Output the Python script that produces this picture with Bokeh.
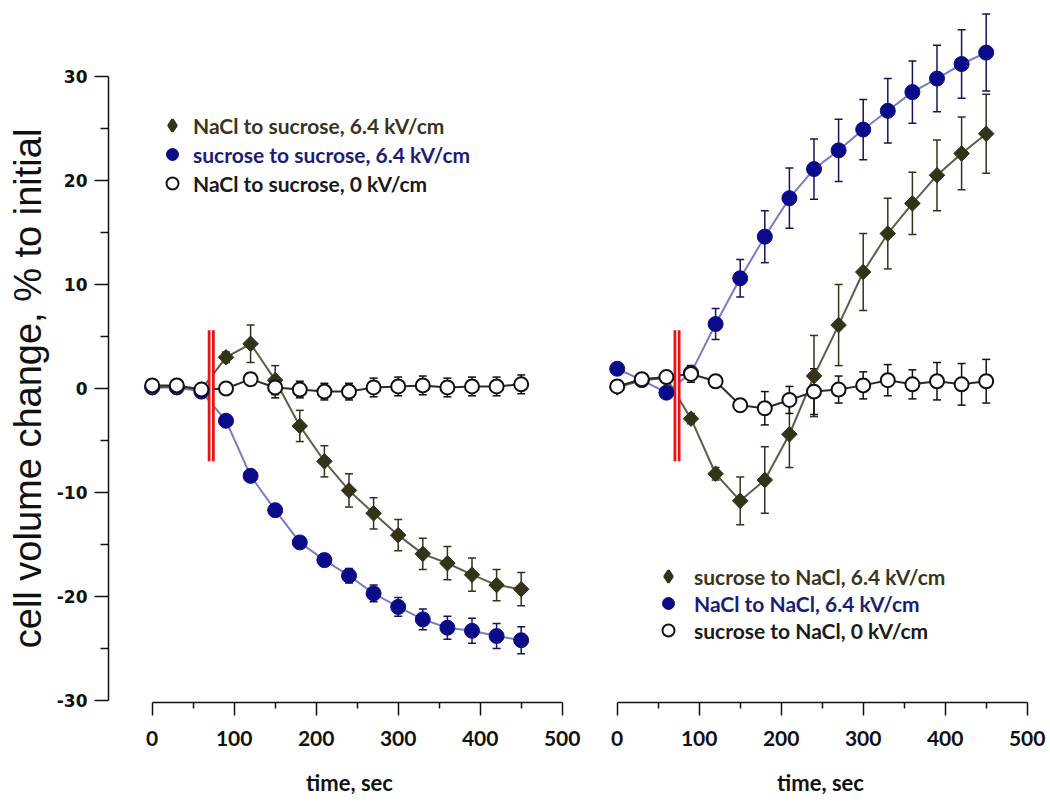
import numpy as np
from bokeh.plotting import figure
from bokeh.models import (ColumnDataSource, Whisker, TeeHead, Range1d, FixedTicker,
                          Legend, LegendItem)
from bokeh.layouts import row
from bokeh.embed import file_html
from bokeh.resources import INLINE

# ---------------- data ----------------
time_s = [0, 30, 60, 90, 120, 150, 180, 210, 240, 270, 300, 330, 360, 390, 420, 450]

# left panel (transfer into sucrose)
nacl_to_suc_64 = [0.1, 0.2, -0.1, 3.0, 4.3, 0.8, -3.6, -7.0, -9.8, -12.0, -14.1, -15.9, -16.8, -17.9, -18.9, -19.3]
nacl_to_suc_64_err = [0.3, 0.3, 0.3, 0.5, 1.8, 1.4, 1.5, 1.5, 1.6, 1.5, 1.5, 1.5, 1.6, 1.6, 1.5, 1.6]
suc_to_suc_64 = [0.1, 0.1, -0.3, -3.1, -8.4, -11.7, -14.8, -16.5, -18.0, -19.7, -21.0, -22.2, -23.0, -23.3, -23.8, -24.2]
suc_to_suc_64_err = [0.3, 0.3, 0.3, 0.4, 0.4, 0.5, 0.5, 0.6, 0.7, 0.8, 0.9, 1.0, 1.1, 1.2, 1.2, 1.3]
nacl_to_suc_0 = [0.3, 0.3, -0.1, 0.0, 0.9, 0.1, -0.1, -0.3, -0.3, 0.1, 0.2, 0.3, 0.1, 0.2, 0.2, 0.4]
nacl_to_suc_0_err = [0.5, 0.5, 0.5, 0.5, 0.6, 1.0, 0.8, 0.8, 0.8, 0.9, 0.9, 0.9, 0.9, 0.9, 0.9, 0.9]

# right panel (transfer into NaCl)
suc_to_nacl_64 = [0.1, 0.8, 1.0, -2.9, -8.2, -10.8, -8.8, -4.4, 1.2, 6.1, 11.2, 14.9, 17.8, 20.5, 22.6, 24.5]
suc_to_nacl_64_err = [0.3, 0.3, 0.3, 0.5, 0.6, 2.3, 3.2, 3.2, 3.9, 3.9, 3.7, 3.4, 3.0, 3.4, 3.5, 3.8]
nacl_to_nacl_64 = [1.9, 0.8, -0.4, 1.5, 6.2, 10.6, 14.6, 18.3, 21.1, 22.9, 24.9, 26.7, 28.5, 29.8, 31.2, 32.3]
nacl_to_nacl_64_err = [0.4, 0.4, 0.4, 0.6, 1.5, 1.8, 2.5, 2.9, 2.9, 3.0, 2.9, 3.1, 3.0, 3.2, 3.3, 3.7]
suc_to_nacl_0 = [0.2, 0.9, 1.1, 1.4, 0.7, -1.6, -1.9, -1.1, -0.3, -0.1, 0.3, 0.8, 0.4, 0.7, 0.4, 0.7]
suc_to_nacl_0_err = [0.3, 0.3, 0.4, 0.8, 0.4, 0.6, 1.6, 1.3, 2.2, 1.3, 1.3, 1.5, 1.4, 1.8, 2.0, 2.1]

labels_left = ["NaCl to sucrose, 6.4 kV/cm", "sucrose to sucrose, 6.4 kV/cm", "NaCl to sucrose, 0 kV/cm"]
labels_right = ["sucrose to NaCl, 6.4 kV/cm", "NaCl to NaCl, 6.4 kV/cm", "sucrose to NaCl, 0 kV/cm"]

pulse_time = [72, 73]          # electric pulse marker (left, right)
pulse_span = [-7.0, 5.6]       # vertical extent of the pulse marker

x_ticks = [0, 100, 200, 300, 400, 500]
x_minor = [50, 150, 250, 350, 450]
y_ticks = [-30, -20, -10, 0, 10, 20, 30]
y_minor = [-25, -15, -5, 5, 15, 25]

x_title = "time, sec"
y_title = "cell volume change, % to initial"

# ---------------- styles / layout ----------------
OLIVE = "#33331a"
OLIVE_LINE = "#5e5e48"
NAVY = "#0b0b8a"
NAVY_LINE = "#7b7bc6"
BLACK = "#111111"
LEG_COLORS = ["#3a3520", "#1c1c7a", "#1a1a1a"]

PX_T = 0.82     # px per second
PX_V = 10.4     # px per % unit
ZERO_Y = 388    # page y of value 0
FRAME_TOP, FRAME_BOTTOM = 0, 702
Y_START = (ZERO_Y - FRAME_BOTTOM) / PX_V
Y_END = (ZERO_Y - FRAME_TOP) / PX_V
H = 800
# non-breaking spaces appended so the rotated title is centred on the value axis
TITLE_PAD = "\u00a0" * 7


def style_axes(p, with_y):
    ax = p.xaxis[0]
    ax.bounds = (0, 500)
    ax.ticker = FixedTicker(ticks=x_ticks, minor_ticks=x_minor)
    ax.axis_line_color = BLACK
    ax.axis_line_width = 1.5
    ax.major_tick_line_color = BLACK
    ax.major_tick_line_width = 1.5
    ax.minor_tick_line_color = BLACK
    ax.minor_tick_line_width = 1.5
    ax.major_tick_in = 0
    ax.major_tick_out = 13
    ax.minor_tick_in = 0
    ax.minor_tick_out = 6
    ax.major_label_text_font = "Lato"
    ax.major_label_text_font_style = "bold"
    ax.major_label_text_font_size = "21px"
    ax.major_label_text_color = BLACK
    ax.major_label_standoff = 15
    ax.axis_label = x_title
    ax.axis_label_text_font = "Lato"
    ax.axis_label_text_font_style = "bold"
    ax.axis_label_text_font_size = "22px"
    ax.axis_label_text_color = BLACK
    ax.axis_label_standoff = 20
    if with_y:
        ay = p.yaxis[0]
        ay.bounds = (-30, 30)
        ay.ticker = FixedTicker(ticks=y_ticks, minor_ticks=y_minor)
        ay.major_label_overrides = {t: str(t) for t in y_ticks}
        ay.axis_line_color = BLACK
        ay.axis_line_width = 1.5
        ay.major_tick_line_color = BLACK
        ay.major_tick_line_width = 1.5
        ay.minor_tick_line_color = BLACK
        ay.minor_tick_line_width = 1.5
        ay.major_tick_in = 0
        ay.major_tick_out = 14
        ay.minor_tick_in = 0
        ay.minor_tick_out = 8
        ay.major_label_text_font = "DejaVu Sans"
        ay.major_label_text_font_style = "bold"
        ay.major_label_text_font_size = "17px"
        ay.major_label_text_color = BLACK
        ay.major_label_standoff = 7
        ay.axis_label = y_title + TITLE_PAD
        ay.axis_label_text_font = "Liberation Sans"
        ay.axis_label_text_font_style = "normal"
        ay.axis_label_text_font_size = "38px"
        ay.axis_label_text_color = BLACK
        ay.axis_label_standoff = 5


def add_errs(p, src, ycol, ecol, color):
    d = src.data
    d[ycol + "_up"] = [a + b for a, b in zip(d[ycol], d[ecol])]
    d[ycol + "_lo"] = [a - b for a, b in zip(d[ycol], d[ecol])]
    w = Whisker(source=src, base="t", upper=ycol + "_up", lower=ycol + "_lo",
                line_color=color, line_width=1.5,
                upper_head=TeeHead(size=8, line_color=color, line_width=1.5),
                lower_head=TeeHead(size=8, line_color=color, line_width=1.5),
                level="underlay")
    p.add_layout(w)


def make_panel(page_left, page_right, t0_px, with_y, series, pulse_t, labels, leg_x, leg_rows, standoff):
    x_start = (page_left - t0_px) / PX_T
    x_end = (page_right - t0_px) / PX_T
    border_left = page_left if with_y else 0
    width = page_right - page_left + border_left
    p = figure(width=width, height=H,
               x_range=Range1d(x_start, x_end), y_range=Range1d(Y_START, Y_END),
               output_backend="svg", toolbar_location=None,
               min_border_left=border_left, min_border_right=0,
               min_border_top=0, min_border_bottom=H - (FRAME_BOTTOM - FRAME_TOP),
               y_axis_location="left" if with_y else None)
    p.grid.visible = False
    p.outline_line_color = None
    p.background_fill_color = "white"
    p.border_fill_color = "white"
    style_axes(p, with_y)

    (dia, dia_e), (blu, blu_e), (opn, opn_e) = series
    src = ColumnDataSource(dict(t=time_s, dia=dia, dia_e=dia_e, blu=blu, blu_e=blu_e,
                                opn=opn, opn_e=opn_e))
    add_errs(p, src, "blu", "blu_e", "#14145a")
    add_errs(p, src, "dia", "dia_e", OLIVE)
    add_errs(p, src, "opn", "opn_e", BLACK)

    p.line("t", "blu", source=src, line_color=NAVY_LINE, line_width=2)
    p.line("t", "dia", source=src, line_color=OLIVE_LINE, line_width=2)
    p.line("t", "opn", source=src, line_color="#2a2a2a", line_width=2)

    # pulse marker: red double line
    p.segment(x0=[pulse_t], y0=[pulse_span[0]], x1=[pulse_t], y1=[pulse_span[1]],
              line_color="#ee1111", line_width=7)
    p.segment(x0=[pulse_t], y0=[pulse_span[0]], x1=[pulse_t], y1=[pulse_span[1]],
              line_color="white", line_width=1.5)

    r_blu = p.scatter("t", "blu", source=src, marker="circle", size=15,
                      fill_color=NAVY, line_color=NAVY, line_width=1)
    # upright diamond used for the legend; fully covered by the rotated squares below
    r_dia_leg = p.scatter("t", "dia", source=src, marker="diamond", size=12,
                          fill_color=OLIVE, line_color=OLIVE, line_width=2.5)
    p.scatter("t", "dia", source=src, marker="square", angle=np.pi / 4, size=11,
              fill_color=OLIVE, line_color=OLIVE, line_width=1)
    r_opn = p.scatter("t", "opn", source=src, marker="circle", size=14,
                      fill_color="white", line_color=BLACK, line_width=2)

    gl = 30
    for r, lab, col, yc in zip([r_dia_leg, r_blu, r_opn], labels, LEG_COLORS, leg_rows):
        lg = Legend(items=[LegendItem(label=lab, renderers=[r])],
                    location=(leg_x - page_left - gl / 2, FRAME_BOTTOM - yc - gl / 2),
                    padding=0, margin=0, spacing=0,
                    glyph_width=gl, glyph_height=gl, label_standoff=standoff,
                    label_height=gl,
                    label_text_font="Lato", label_text_font_style="bold",
                    label_text_font_size="21px", label_text_color=col,
                    border_line_alpha=0, background_fill_alpha=0)
        p.add_layout(lg)
    return p


left = make_panel(108, 590, 151.7, True,
                  [(nacl_to_suc_64, nacl_to_suc_64_err), (suc_to_suc_64, suc_to_suc_64_err),
                   (nacl_to_suc_0, nacl_to_suc_0_err)],
                  pulse_time[0], labels_left, 172, [125, 154, 183], 6)
right = make_panel(590, 1050, 616.7, False,
                   [(suc_to_nacl_64, suc_to_nacl_64_err), (nacl_to_nacl_64, nacl_to_nacl_64_err),
                    (suc_to_nacl_0, suc_to_nacl_0_err)],
                   pulse_time[1], labels_right, 668, [576, 603, 630], 11)

layout = row(left, right, spacing=0)
open("out.html", "w").write(file_html(layout, INLINE))
